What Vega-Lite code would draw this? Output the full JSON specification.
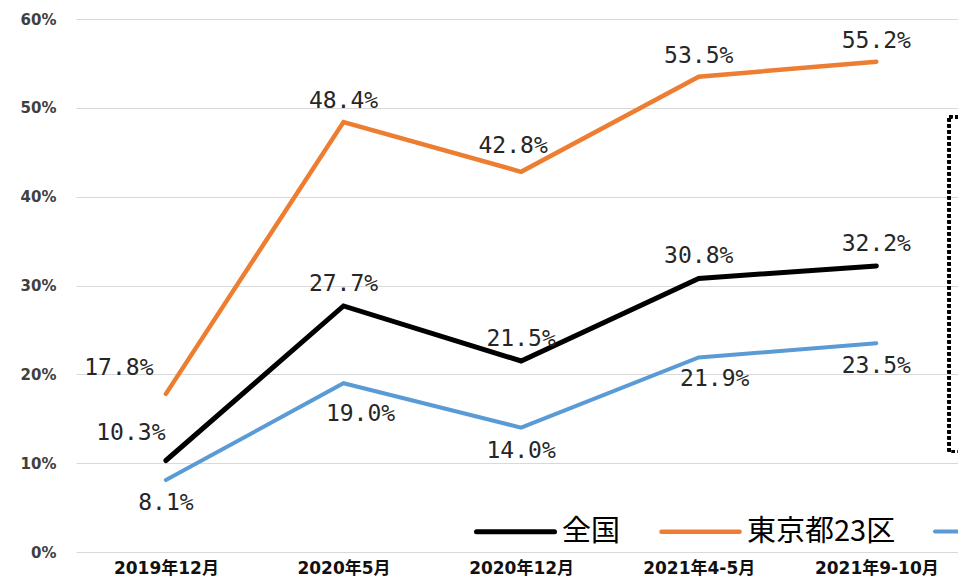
{
  "$schema": "https://vega.github.io/schema/vega-lite/v6.json",
  "width": 882,
  "height": 533,
  "autosize": {"type": "none"},
  "padding": {"left": 76, "top": 19, "right": 0, "bottom": 25},
  "background": "#ffffff",
  "config": {
    "view": {"stroke": null},
    "font": "DejaVu Sans",
    "legend": {
      "orient": "none",
      "legendX": 398,
      "legendY": 471,
      "direction": "horizontal",
      "title": null,
      "symbolType": "stroke",
      "symbolSize": 6084,
      "symbolStrokeWidth": 9,
      "labelFont": "Noto Sans CJK JP",
      "labelFontSize": 29,
      "labelColor": "#000000",
      "labelOffset": 5,
      "labelLimit": 400,
      "columnPadding": 31,
      "padding": 0
    }
  },
  "data": {
    "values": [
      {"period": "2019年12月", "series": "全国", "value": 10.3, "label": "10.3%"},
      {"period": "2020年5月", "series": "全国", "value": 27.7, "label": "27.7%"},
      {"period": "2020年12月", "series": "全国", "value": 21.5, "label": "21.5%"},
      {"period": "2021年4-5月", "series": "全国", "value": 30.8, "label": "30.8%"},
      {"period": "2021年9-10月", "series": "全国", "value": 32.2, "label": "32.2%"},
      {"period": "2019年12月", "series": "東京都23区", "value": 17.8, "label": "17.8%"},
      {"period": "2020年5月", "series": "東京都23区", "value": 48.4, "label": "48.4%"},
      {"period": "2020年12月", "series": "東京都23区", "value": 42.8, "label": "42.8%"},
      {"period": "2021年4-5月", "series": "東京都23区", "value": 53.5, "label": "53.5%"},
      {"period": "2021年9-10月", "series": "東京都23区", "value": 55.2, "label": "55.2%"},
      {"period": "2019年12月", "series": "地方圏", "value": 8.1, "label": "8.1%"},
      {"period": "2020年5月", "series": "地方圏", "value": 19.0, "label": "19.0%"},
      {"period": "2020年12月", "series": "地方圏", "value": 14.0, "label": "14.0%"},
      {"period": "2021年4-5月", "series": "地方圏", "value": 21.9, "label": "21.9%"},
      {"period": "2021年9-10月", "series": "地方圏", "value": 23.5, "label": "23.5%"}
    ]
  },
  "resolve": {"scale": {"x": "independent"}, "axis": {"x": "independent"}},
  "layer": [
    {
      "encoding": {
        "x": {
          "field": "period",
          "type": "ordinal",
          "sort": ["2019年12月", "2020年5月", "2020年12月", "2021年4-5月", "2021年9-10月"],
          "scale": {"type": "point", "padding": 0.483, "align": 0.524},
          "axis": {
            "title": null,
            "domain": false,
            "ticks": false,
            "grid": false,
            "labelAngle": 0,
            "labelPadding": 8,
            "labelFont": "DejaVu Sans, Noto Sans CJK JP",
            "labelFontWeight": "bold",
            "labelFontSize": 17,
            "labelColor": "#111111"
          }
        },
        "y": {
          "field": "value",
          "type": "quantitative",
          "scale": {"domain": [0, 60]},
          "axis": {
            "title": null,
            "values": [0, 10, 20, 30, 40, 50, 60],
            "labelExpr": "datum.value + '%'",
            "grid": true,
            "gridColor": "#d9d9d9",
            "gridWidth": 1,
            "domain": false,
            "ticks": false,
            "labelPadding": 20,
            "labelFont": "DejaVu Sans",
            "labelFontWeight": "bold",
            "labelFontSize": 15,
            "labelColor": "#404040"
          }
        }
      },
      "layer": [
        {
          "mark": {"type": "line", "strokeCap": "round", "strokeJoin": "miter"},
          "encoding": {
            "color": {
              "field": "series",
              "type": "nominal",
              "scale": {"domain": ["全国", "東京都23区", "地方圏"], "range": ["#000000", "#ED7D31", "#5B9BD5"]},
              "legend": {"encode": {"symbols": {"update": {"strokeCap": {"value": "round"}}}}}
            },
            "strokeWidth": {
              "field": "series",
              "type": "nominal",
              "scale": {"domain": ["全国", "東京都23区", "地方圏"], "range": [5, 4, 3.5]},
              "legend": null
            }
          }
        },
        {
          "transform": [{"filter": "datum.series == '全国' && datum.period != '2019年12月'"}],
          "mark": {"type": "text", "font": "DejaVu Sans Mono", "fontSize": 23, "fill": "#262626", "dy": -22},
          "encoding": {"text": {"field": "label"}}
        },
        {
          "transform": [{"filter": "datum.series == '全国' && datum.period == '2019年12月'"}],
          "mark": {"type": "text", "font": "DejaVu Sans Mono", "fontSize": 23, "fill": "#262626", "dx": -35, "dy": -28},
          "encoding": {"text": {"field": "label"}}
        },
        {
          "transform": [{"filter": "datum.series == '東京都23区' && (datum.period == '2020年5月' || datum.period == '2021年4-5月' || datum.period == '2021年9-10月')"}],
          "mark": {"type": "text", "font": "DejaVu Sans Mono", "fontSize": 23, "fill": "#262626", "dy": -21},
          "encoding": {"text": {"field": "label"}}
        },
        {
          "transform": [{"filter": "datum.series == '東京都23区' && datum.period == '2020年12月'"}],
          "mark": {"type": "text", "font": "DejaVu Sans Mono", "fontSize": 23, "fill": "#262626", "dx": -8, "dy": -26},
          "encoding": {"text": {"field": "label"}}
        },
        {
          "transform": [{"filter": "datum.series == '東京都23区' && datum.period == '2019年12月'"}],
          "mark": {"type": "text", "font": "DejaVu Sans Mono", "fontSize": 23, "fill": "#262626", "dx": -47, "dy": -26},
          "encoding": {"text": {"field": "label"}}
        },
        {
          "transform": [{"filter": "datum.series == '地方圏' && (datum.period == '2019年12月' || datum.period == '2020年12月' || datum.period == '2021年9-10月')"}],
          "mark": {"type": "text", "font": "DejaVu Sans Mono", "fontSize": 23, "fill": "#262626", "dy": 23},
          "encoding": {"text": {"field": "label"}}
        },
        {
          "transform": [{"filter": "datum.series == '地方圏' && datum.period == '2020年5月'"}],
          "mark": {"type": "text", "font": "DejaVu Sans Mono", "fontSize": 23, "fill": "#262626", "dx": 17, "dy": 31},
          "encoding": {"text": {"field": "label"}}
        },
        {
          "transform": [{"filter": "datum.series == '地方圏' && datum.period == '2021年4-5月'"}],
          "mark": {"type": "text", "font": "DejaVu Sans Mono", "fontSize": 23, "fill": "#262626", "dx": 16, "dy": 22},
          "encoding": {"text": {"field": "label"}}
        }
      ]
    },
    {
      "mark": {"type": "rect", "fill": null, "fillOpacity": 0, "stroke": "#000000", "strokeWidth": 3, "strokeDash": [3, 3]},
      "encoding": {
        "x": {"datum": 0.99, "type": "quantitative", "scale": {"domain": [0, 1]}, "axis": null},
        "x2": {"datum": 1.3},
        "y": {"datum": 49, "type": "quantitative"},
        "y2": {"datum": 11.3}
      }
    }
  ]
}
